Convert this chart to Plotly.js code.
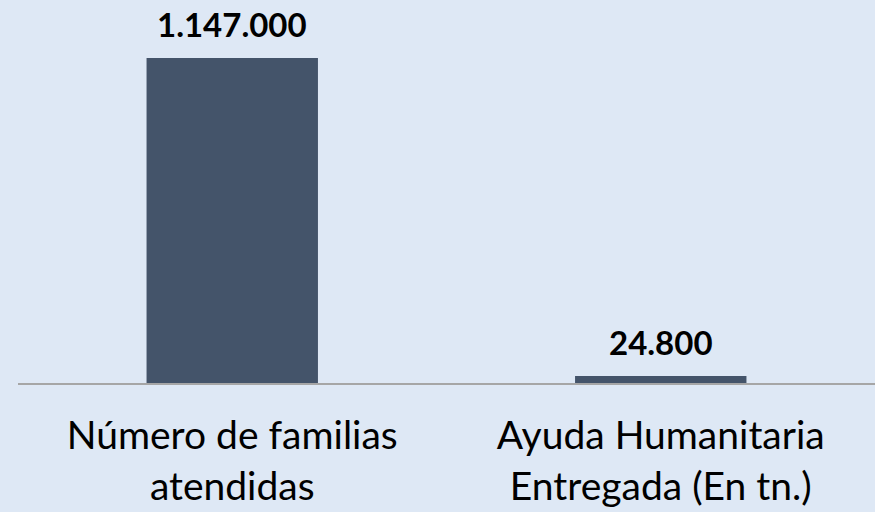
<!DOCTYPE html>
<html><head><meta charset="utf-8">
<script src="https://cdn.plot.ly/plotly-3.0.1.min.js"></script>
<style>html,body{margin:0;padding:0;background:#dee8f5;}</style>
</head><body>
<div id="chart" style="width:875px;height:512px;"></div>
<script>
const categories = ["Número de familias<br>atendidas", "Ayuda Humanitaria<br>Entregada (En tn.)"];
const values = [1147000, 24800];
const valueLabels = ["1.147.000", "24.800"];

const trace = {
  type: "bar",
  x: categories,
  y: values,
  marker: {color: "#44546a"},
  hoverinfo: "skip"
};

const annotations = categories.map((c, i) => ({
  x: c, y: values[i], xref: "x", yref: "y",
  text: "<b>" + valueLabels[i] + "</b>",
  showarrow: false, yanchor: "bottom", yshift: 12,
  font: {family: "Lato, 'Open Sans', sans-serif", size: 33, color: "#000000"}
}));

const layout = {
  width: 875, height: 512,
  margin: {l: 18, r: 0, t: 20, b: 129},
  paper_bgcolor: "#dee8f5",
  plot_bgcolor: "#dee8f5",
  bargap: 0.6,
  showlegend: false,
  xaxis: {
    showline: true, linecolor: "#a6a6a6", linewidth: 1.5,
    ticks: "", ticklabelstandoff: 18,
    tickfont: {family: "Lato, 'Open Sans', sans-serif", size: 39, color: "#000000"},
    showgrid: false, zeroline: false
  },
  yaxis: {
    range: [0, 1281000], visible: false, showgrid: false, zeroline: false
  },
  annotations: annotations
};

Plotly.newPlot("chart", [trace], layout, {displayModeBar: false, staticPlot: true});
</script>
</body></html>
